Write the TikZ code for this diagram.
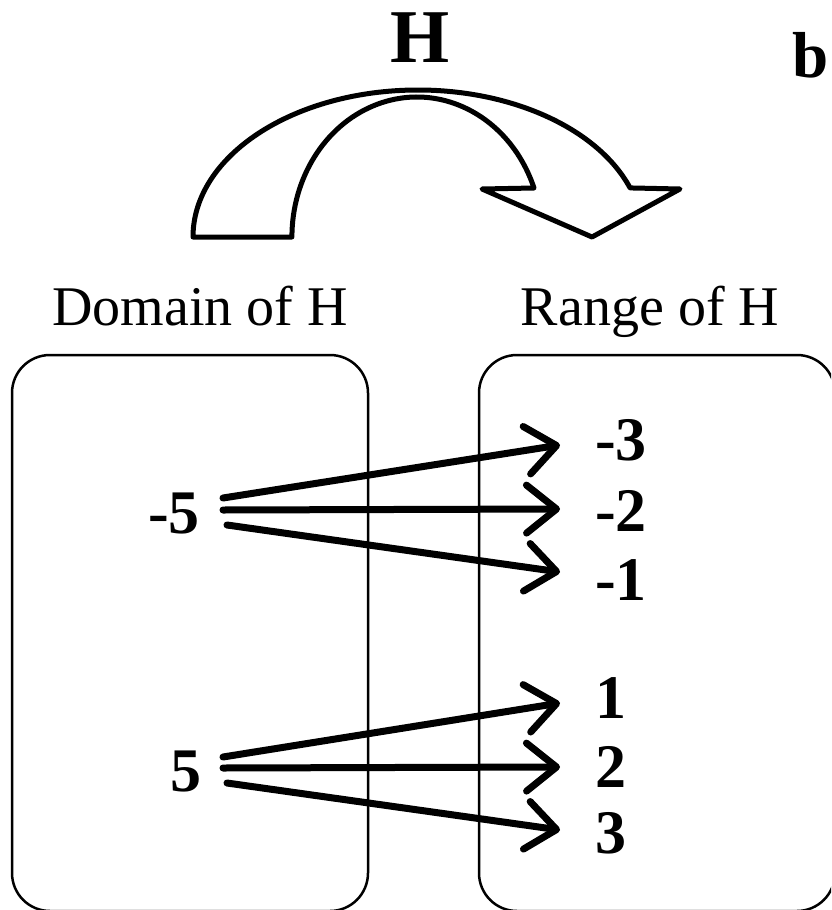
\documentclass[tikz,border=0pt]{standalone}
\usepackage{fontspec}
\setmainfont{Liberation Serif}
\usepackage{tikz}
\usetikzlibrary{positioning, arrows.meta}

\begin{document}
\begin{tikzpicture}[
        x=1pt, y=1pt,
        setbox/.style = {draw, line width=2.5pt, rounded corners=38pt, minimum width=356pt, minimum height=556pt, inner sep=0pt},
        settitle/.style = {font=\fontsize{56}{60}\selectfont, inner sep=0pt, anchor=base},
        elem/.style = {font=\fontsize{62}{66}\selectfont\bfseries, inner sep=0pt},
        maparrow/.style = {-{Straight Barb[length=30pt, width=48pt, round]}, line width=7pt, line cap=round},
        bigarrow/.style = {line width=5pt, line join=round},
    ]
        \clip (0,0) rectangle (831,-910);
        % name of the function and the bent arrow
        \node[font=\fontsize{76}{80}\selectfont\bfseries, inner sep=0pt, anchor=base] (fname) at (420,-62) {H};
        \node[font=\fontsize{65}{70}\selectfont\bfseries, inner sep=0pt, anchor=base] (tag) at (811,-77) {b};
        \draw[bigarrow] (193,-237) arc[start angle=180, end angle=19.5, x radius=225pt, y radius=147pt]
            -- (680,-189) -- (592,-237) -- (482,-189) -- (534,-188)
            arc[start angle=20.5, end angle=180, x radius=125pt, y radius=140pt] -- cycle;
        % the two sets
        \node[setbox] (dom) at (190,-633) {};
        \node[setbox] (rng) at (657,-633) {};
        \node[settitle] (domlabel) at (200,-325) {Domain of H};
        \node[settitle] (rnglabel) at (650,-325) {Range of H};
        % elements
        \node[elem, anchor=east] (nm5) at (200,-513.5) {-5};
        \node[elem, anchor=east] (np5) at (202,-771) {5};
        \node[elem, anchor=west] (nm3) at (595,-440) {-3};
        \node[elem, anchor=west] (nm2) at (595,-511) {-2};
        \node[elem, anchor=west] (nm1) at (595,-580) {-1};
        \node[elem, anchor=west] (n1) at (595,-698) {1};
        \node[elem, anchor=west] (n2) at (595,-767) {2};
        \node[elem, anchor=west] (n3) at (595,-833) {3};
        \draw[maparrow] ([shift={(23pt,15.5pt)}]nm5.east) -- ([shift={(-35pt,-5pt)}]nm3.west);
        \draw[maparrow] ([shift={(23pt,3.5pt)}]nm5.east) -- ([shift={(-35pt,2pt)}]nm2.west);
        \draw[maparrow] ([shift={(27pt,-11.5pt)}]nm5.east) -- ([shift={(-35pt,8pt)}]nm1.west);
        \draw[maparrow] ([shift={(21pt,14pt)}]np5.east) -- ([shift={(-35pt,-5pt)}]n1.west);
        \draw[maparrow] ([shift={(21pt,3pt)}]np5.east) -- ([shift={(-35pt,0pt)}]n2.west);
        \draw[maparrow] ([shift={(25pt,-12pt)}]np5.east) -- ([shift={(-35pt,3pt)}]n3.west);
    \end{tikzpicture}
\end{document}
